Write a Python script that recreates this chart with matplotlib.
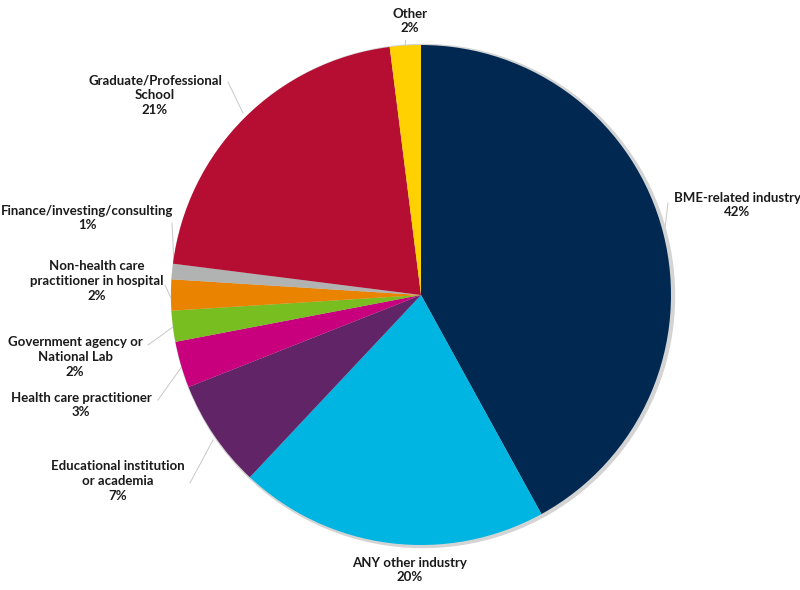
import matplotlib
matplotlib.use("Agg")
import matplotlib.pyplot as plt
from matplotlib.patches import Circle

# data, clockwise from 12 o'clock
categories = [
    "BME-related industry", "ANY other industry", "Educational institution\nor academia",
    "Health care practitioner", "Government agency or\nNational Lab",
    "Non-health care\npractitioner in hospital", "Finance/investing/consulting",
    "Graduate/Professional\nSchool", "Other",
]
shares = [42, 20, 7, 3, 2, 2, 1, 21, 2]
colors = ["#012851", "#00B5E2", "#612466", "#C8007E", "#78BE20",
          "#E98300", "#B1B3B3", "#B50E32", "#FFD100"]

# label layout in pixel space (x, y from top) and leader lines
label_pos = [(737, 205), (410, 570), (118, 481), (81, 405), (75, 357),
             (97, 281), (87, 218), (155, 95), (410, 21)]
leaders = [((668, 203), (665, 228)), None, ((190, 483), (213, 440)),
           ((158, 400), (183, 365)), ((148, 345), (173, 327)),
           ((165, 285), (172, 300)), ((172, 223), (174, 265)),
           ((228, 82), (243, 113)), ((405, 40), (405, 46))]

W, H = 800, 590
fig = plt.figure(figsize=(8, 5.9), dpi=100)
ax = fig.add_axes([0, 0, 1, 1])

cx, cy, r = 421, H - 295, 250

# soft grey rim behind the pie
ax.add_patch(Circle((cx + 2, cy - 1), r + 1.5, color="#D4D4D4", zorder=1))

ax.pie(shares, colors=colors, startangle=90, counterclock=False,
       center=(cx, cy), radius=r, frame=True,
       wedgeprops=dict(linewidth=0, zorder=2))
ax.set_xlim(0, W)
ax.set_ylim(0, H)
ax.set_aspect("equal")
ax.axis("off")

for name, val, (lx, ly), ld in zip(categories, shares, label_pos, leaders):
    ax.text(lx, H - ly, f"{name}\n{val}%", ha="center", va="center",
            fontsize=9.5, fontweight="bold", family="Lato", color="#1a1a1a",
            linespacing=1.25, zorder=5)
    if ld is not None:
        (x0, y0), (x1, y1) = ld
        ax.plot([x0, x1], [H - y0, H - y1], color="#C8C8C8", lw=0.7, zorder=0)

fig.savefig("out.png", dpi=100)
